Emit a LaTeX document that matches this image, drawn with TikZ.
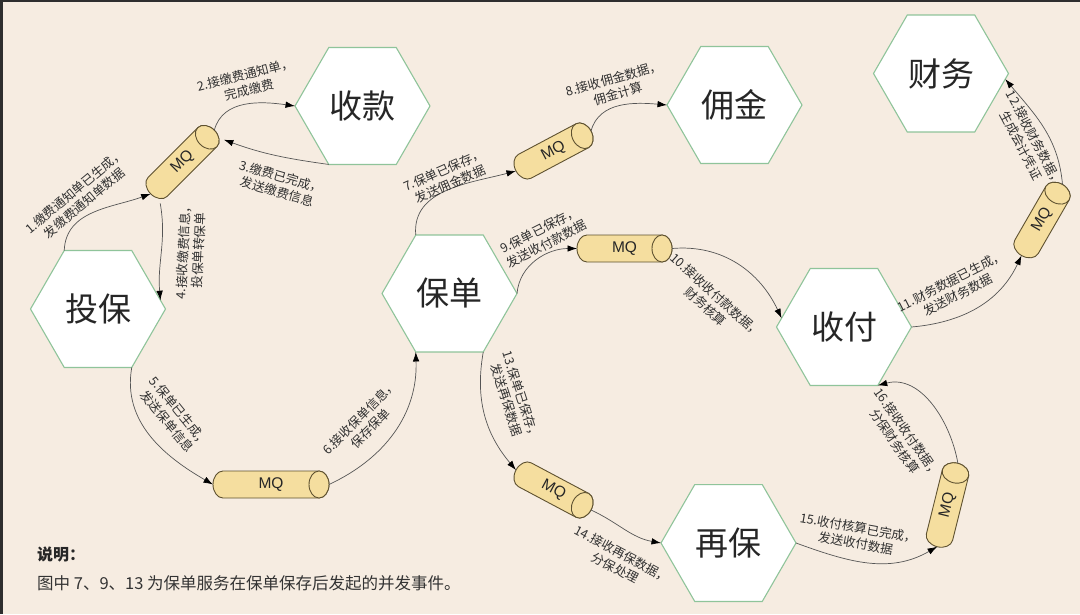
\documentclass[tikz,border=0pt]{standalone}
\usepackage{fontspec}
\setmainfont{Noto Sans CJK SC}
\newfontfamily\mqfont{Liberation Sans}
\usetikzlibrary{shapes.geometric,arrows.meta,calc}
\definecolor{bgcol}{HTML}{F6ECE1}
\definecolor{edgecol}{HTML}{2E2E2E}
\definecolor{hexgreen}{HTML}{8FC49A}
\definecolor{mqfill}{HTML}{F5DE9F}
\definecolor{mqdraw}{HTML}{5E5130}
\definecolor{linecol}{HTML}{555555}
\definecolor{labelgray}{HTML}{303030}
\tikzset{
  hex/.style={regular polygon, regular polygon sides=6, minimum size=135pt, inner sep=0pt, outer sep=0pt,
    draw=hexgreen, line width=1.1pt, fill=white, font=\fontsize{33}{36}\selectfont, text=black!85},
  mqshape/.style={draw=mqdraw, fill=mqfill, line width=0.9pt},
  mqlabel/.style={rectangle, inner sep=0pt, outer sep=0pt, minimum height=27pt, font=\mqfont\fontsize{15.5}{15.5}\selectfont, text=black!85},
  conn/.style={draw=linecol, line width=0.7pt, -{Latex[length=9.5pt,width=6.5pt,color=black]}},
  lbl/.style={font=\fontsize{12.6}{15.5}\selectfont, text=labelgray, align=center, inner sep=0pt}
}
\newcommand\mqcyl[5]{%
  \begin{scope}[shift={(#2,#3)}, rotate=#4]
    \pgfmathsetmacro\mqha{#5/2}
    \filldraw[mqshape] (\mqha-10,13.5) -- (-\mqha+10,13.5)
      arc[start angle=90, end angle=270, x radius=10pt, y radius=13.5pt]
      -- (\mqha-10,-13.5)
      arc[start angle=-90, end angle=90, x radius=10pt, y radius=13.5pt] -- cycle;
    \draw[mqshape] (\mqha-10,0) ellipse[x radius=10pt, y radius=13.5pt];
  \end{scope}
  \node[mqlabel, rotate=#4, minimum width=#5pt] (#1) at (#2,#3) {MQ};
}
\begin{document}
\begin{tikzpicture}[x=1pt,y=1pt]
\useasboundingbox (0,0) rectangle (1080,-614);
\fill[bgcol] (0,0) rectangle (1080,-614);
\fill[edgecol] (0,0) rectangle (2.5,-614);
\fill[edgecol] (0,0) rectangle (1080,-1.5);

% hexagons
\node[hex] (tb) at (98,-309) {投保};
\node[hex] (sk) at (362.5,-106) {收款};
\node[hex] (bd) at (449.5,-293.5) {保单};
\node[hex] (yj) at (734.5,-105) {佣金};
\node[hex] (cw) at (941,-73.5) {财务};
\node[hex] (sf) at (844,-327) {收付};
\node[hex] (zg) at (728.5,-543) {再保};

% MQ cylinders
\mqcyl{mqA}{182.5}{-162}{45}{90}
\mqcyl{mqC}{553.5}{-151}{28}{85}
\mqcyl{mqD}{624.5}{-248.5}{0}{95}
\mqcyl{mqB}{271}{-484.5}{0}{116}
\mqcyl{mqF}{553.5}{-490}{-28}{85}
\mqcyl{mqG}{947.5}{-505}{76}{86}
\mqcyl{mqE}{1042}{-220}{60}{82}

% connectors
\draw[conn] (tb.120) to[out=88, in=200] (mqA.west);
\draw[conn] (mqA.east) to[out=75, in=172] (sk.180);
\draw[conn] (sk.240) to[out=172, in=-20] (mqA.south east);
\draw[conn] (mqA.south west) to[out=-80, in=95] (tb.8);
\draw[conn] (tb.300) to[out=-100, in=150] (mqB.west);
\draw[conn] (mqB.east) to[out=25, in=-88] (bd.240);
\draw[conn] (bd.120) to[out=95, in=195] (mqC.west);
\draw[conn] (mqC.east) to[out=75, in=175] (yj.180);
\draw[conn] (bd.0) to[out=85, in=180] (mqD.west);
\draw[conn] (mqD.east) to[out=5, in=115] (sf.172);
\draw[conn] (sf.0) to[out=5, in=-115] (mqE.west);
\draw[conn] (mqE.east) to[out=95, in=-50] (cw.355);
\draw[conn] (bd.300) to[out=-100, in=130] (mqF.west);
\draw[conn] (mqF.east) to[out=-25, in=170] (zg.180);
\draw[conn] (zg.0) to[out=-20, in=210] (mqG.west);
\draw[conn] (mqG.east) to[out=100, in=15] (sf.300);

% labels
\node[lbl, rotate=40] (t1) at (79.5,-197) {1.缴费通知单已生成，\\发缴费通知单数据};
\node[lbl, rotate=14] (t2) at (247,-82) {2.接缴费通知单，\\完成缴费};
\node[lbl, rotate=-16] (t3) at (279,-184) {3.缴费已完成，\\发送缴费信息};
\node[lbl, rotate=87] (t4) at (191,-250) {4.接收缴费信息，\\投保单转保单};
\node[lbl, rotate=-51] (t5) at (173.5,-416.5) {5.保单已生成，\\发送保单信息};
\node[lbl, rotate=45] (t6) at (365,-423) {6.接收保单信息，\\保存保单};
\node[lbl, rotate=24] (t7) at (447,-177) {7.保单已保存，\\发送佣金数据};
\node[lbl, rotate=16] (t8) at (616,-86) {8.接收佣金数据，\\佣金计算};
\node[lbl, rotate=27] (t9) at (543,-237) {9.保单已保存，\\发送收付款数据};
\node[lbl, rotate=-42] (t10) at (711,-301) {10.接收收付款数据，\\财务核算};
\node[lbl, rotate=27] (t11) at (954.5,-288) {11.财务数据已生成，\\发送财务数据};
\node[lbl, rotate=-62] (t12) at (1028,-142) {12.接收财务数据，\\生成会计凭证};
\node[lbl, rotate=-72] (t13) at (514,-398) {13.保单已保存，\\发送再保数据};
\node[lbl, rotate=-28] (t14) at (619,-561) {14.接收再保数据，\\分保处理};
\node[lbl, rotate=-10] (t15) at (857,-535.5) {15.收付核算已完成，\\发送收付数据};
\node[lbl, rotate=-55] (t16) at (901,-437) {16.接收收付数据，\\分保财务核算};

% note
\node[anchor=base west, inner sep=0pt, font=\fontsize{16}{18}\selectfont\bfseries, text=black!85] (note1) at (37,-560) {说明：};
\node[anchor=base west, inner sep=0pt, font=\fontsize{16.5}{18}\selectfont, text=black!80] (note2) at (37,-589) {图中 7、9、13 为保单服务在保单保存后发起的并发事件。};
\end{tikzpicture}
\end{document}
